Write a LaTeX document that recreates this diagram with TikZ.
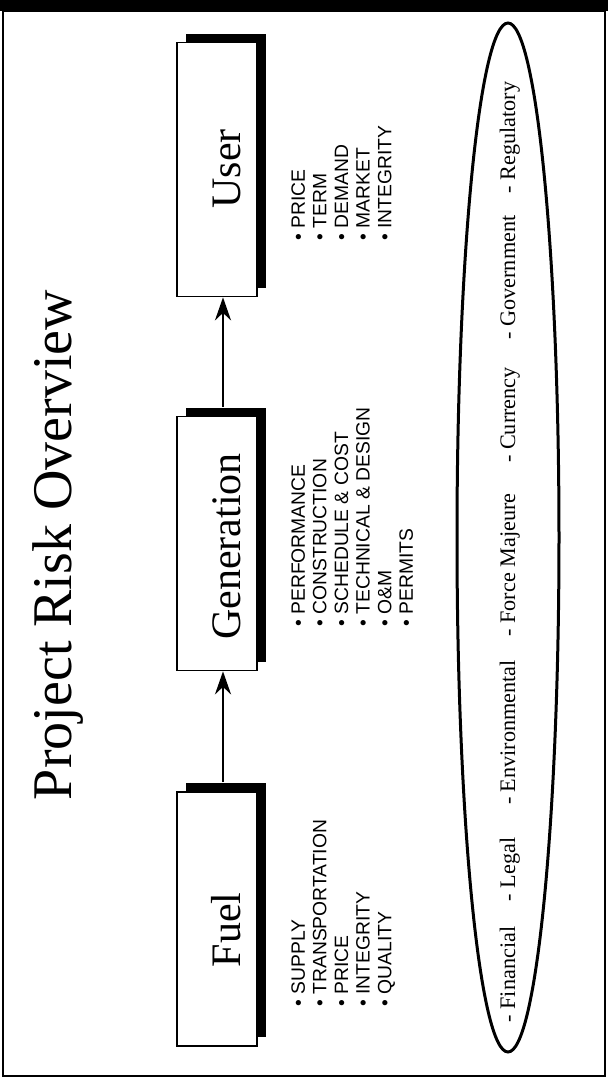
\documentclass[tikz,border=0pt]{standalone}
\usepackage{fontspec}
\setmainfont{Liberation Serif}
\setsansfont{Liberation Sans}
\usetikzlibrary{positioning,arrows.meta,shadows}

\begin{document}
\begin{tikzpicture}[x=0.5pt, y=-0.5pt,
    riskbox/.style={rectangle, draw=black, line width=0.85pt, fill=white,
      minimum width=40pt, minimum height=127pt, inner sep=0pt,
      drop shadow={shadow xshift=4.5pt, shadow yshift=4.5pt, fill=black, opacity=1}},
    boxlabel/.style={rotate=90, anchor=base, inner sep=0pt,
      font=\fontsize{21}{25}\selectfont},
    risklist/.style={rotate=90, anchor=north west, inner sep=0pt, align=left,
      font=\sffamily\fontsize{9.65}{10.8}\selectfont},
    factor/.style={rotate=90, anchor=base, inner sep=0pt,
      font=\fontsize{11.1}{13}\selectfont},
    flow/.style={-{Stealth[length=11.5pt, width=8pt]}, line width=1.3pt}]
    \path[use as bounding box] (0,0) rectangle (608,1078);
    % frame
    \fill[black] (0,0) rectangle (608,11);
    \draw[line width=0.75pt] (3,11) rectangle (605,1076);
    \node[rotate=90, anchor=base, inner sep=0pt,
          font=\fontsize{28}{34}\selectfont] (title) at (71,545) {Project Risk Overview};
    % chain
    \node[riskbox] (fuel) at (217,919) {};
    \node[riskbox] (gen) at (217,543.5) {};
    \node[riskbox] (user) at (217,169.5) {};
    \node[boxlabel] (fuellbl) at (240,930) {Fuel};
    \node[boxlabel] (genlbl) at (240,546.5) {Generation};
    \node[boxlabel] (userlbl) at (240,169) {User};
    \draw[flow] ([xshift=3pt, yshift=4.5pt]fuel.north) -- ([xshift=3pt]gen.south);
    \draw[flow] ([xshift=3pt, yshift=4.5pt]gen.north) -- ([xshift=3pt]user.south);
    % risk lists
    \node[risklist] (fuelrisks) at (291,1007)
      {\textbullet\ SUPPLY\\ \textbullet\ TRANSPORTATION\\ \textbullet\ PRICE\\
       \textbullet\ INTEGRITY\\ \textbullet\ QUALITY};
    \node[risklist] (genrisks) at (291,627)
      {\textbullet\ PERFORMANCE\\ \textbullet\ CONSTRUCTION\\ \textbullet\ SCHEDULE \& COST\\
       \textbullet\ TECHNICAL \& DESIGN\\ \textbullet\ O\&M\\ \textbullet\ PERMITS};
    \node[risklist] (userrisks) at (291,241)
      {\textbullet\ PRICE\\ \textbullet\ TERM\\ \textbullet\ DEMAND\\
       \textbullet\ MARKET\\ \textbullet\ INTEGRITY};
    % general risks
    \draw[line width=1.5pt] (508,537.5) ellipse [x radius=51, y radius=514.5];
    \foreach \y/\name [count=\i] in {974.5/Financial, 869.5/Legal, 732.5/Environmental,
        565/Force Majeure, 415/Currency, 277.5/Government, 137.5/Regulatory}
      \node[factor] (factor\i) at (515,\y) {- \name};
\end{tikzpicture}
\end{document}
